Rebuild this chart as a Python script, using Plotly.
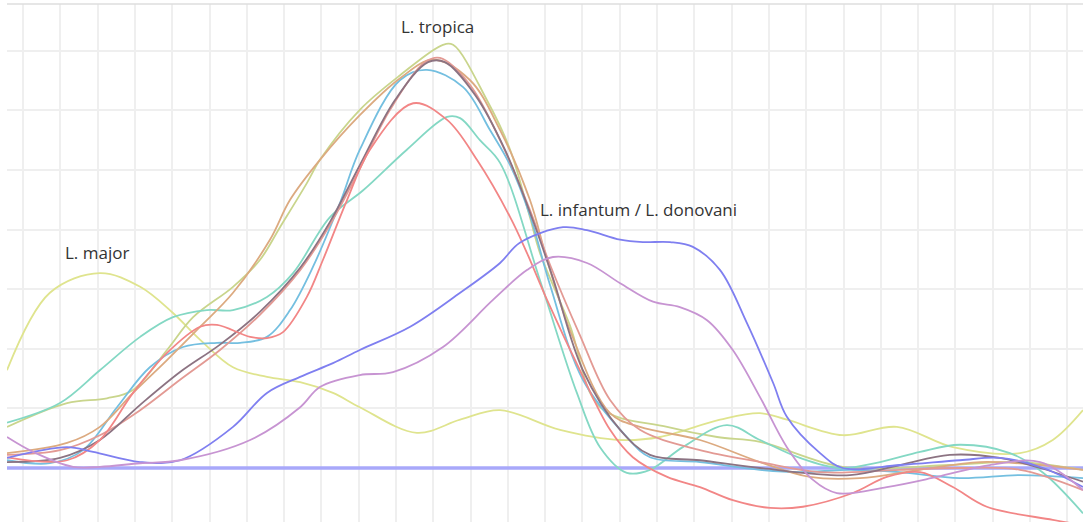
import plotly.graph_objects as go

# ---- data (x in grid columns, y in grid rows) ----
major_x = [-0.43,0.72,2.06,3.14,4.02,4.75,5.63,6.54,7.43,8.31,9.03,10.56,11.72,12.79,14.40,16.01,17.08,18.69,19.76,20.48,21.98,23.43,24.93,26.73,27.61,28.42]
major_y = [1.64,2.94,3.27,3.04,2.60,2.15,1.69,1.53,1.44,1.26,1.02,0.59,0.81,0.97,0.64,0.47,0.52,0.81,0.92,0.81,0.55,0.69,0.35,0.25,0.47,0.97]

olive_x = [-0.43,1.18,2.25,2.95,3.86,4.56,5.63,6.35,6.89,7.61,7.96,9.03,10.11,11.26,11.53,12.44,13.06,13.59,13.86,14.66,15.47,17.27,18.61,19.76,21.98,24.85,26.73,28.42]
olive_y = [0.69,1.09,1.17,1.31,1.98,2.53,3.04,3.49,4.04,4.78,5.17,6.01,6.59,7.10,7.10,6.17,5.34,4.21,3.61,2.40,1.02,0.69,0.52,0.44,0.02,0.05,0.10,-0.03]

aqua_x = [-0.43,0.99,2.06,3.14,4.02,4.93,5.63,6.54,7.24,8.23,9.12,10.29,11.37,11.72,12.25,12.79,13.86,14.85,15.47,16.19,16.81,17.69,18.87,19.76,20.83,21.90,22.98,24.05,25.12,26.46,27.35,28.42]
aqua_y = [0.76,1.09,1.64,2.20,2.53,2.65,2.65,2.87,3.27,4.21,4.66,5.34,5.89,5.87,5.50,5.12,3.15,1.26,0.35,-0.08,-0.03,0.35,0.72,0.47,0.17,0.00,0.10,0.27,0.39,0.25,-0.08,-0.76]

lblue_x = [-0.43,0.72,1.61,2.52,3.40,4.29,5.20,5.82,6.54,7.16,7.77,8.50,9.03,10.11,10.83,11.80,12.52,13.06,13.59,14.13,15.01,16.19,16.81,18.15,19.76,20.83,22.17,23.51,25.12,26.73,28.42]
lblue_y = [0.13,0.08,0.30,1.02,1.69,2.03,2.10,2.10,2.20,2.65,3.37,4.45,5.34,6.51,6.68,6.39,5.67,5.08,4.24,3.07,1.48,0.52,0.18,0.10,-0.03,-0.07,-0.03,-0.07,-0.17,-0.12,-0.17]

salmon_x = [-0.43,1.18,2.06,2.95,3.86,4.75,5.20,6.09,6.54,6.97,7.61,8.04,8.69,9.30,10.46,11.37,12.17,13.06,13.51,14.05,14.93,15.74,16.35,17.27,18.15,19.03,20.03,20.91,22.25,23.16,24.05,24.93,25.84,27.61,28.42]
salmon_y = [0.18,0.13,0.47,1.26,1.93,2.37,2.40,2.20,2.18,2.28,2.87,3.49,4.50,5.34,6.12,5.84,5.17,4.21,3.61,2.82,1.64,0.64,0.18,-0.15,-0.32,-0.54,-0.67,-0.65,-0.42,-0.15,-0.07,-0.32,-0.65,-0.87,-0.96]

tan_x = [-0.43,1.18,2.06,2.95,3.86,4.75,5.63,6.62,7.16,7.96,9.03,10.11,10.99,11.98,12.79,13.59,14.05,14.66,15.74,16.54,18.15,19.76,21.10,22.44,24.05,25.66,27.27,28.42]
tan_y = [0.25,0.42,0.69,1.26,1.81,2.37,2.94,3.83,4.50,5.17,5.92,6.54,6.85,6.51,5.67,4.50,3.49,2.32,0.92,0.69,0.47,0.10,-0.15,-0.17,-0.03,0.10,0.05,-0.03]

rosy_x = [-0.43,0.99,2.06,3.14,4.21,5.28,6.35,7.43,8.23,8.95,9.84,10.78,11.18,11.98,12.79,13.59,14.13,14.93,15.74,16.54,18.15,19.76,21.37,23.51,25.12,26.73,28.42]
rosy_y = [0.22,0.30,0.55,0.97,1.48,1.98,2.57,3.32,4.08,4.92,6.01,6.81,6.88,6.43,5.50,4.33,3.41,2.23,1.14,0.64,0.30,0.10,-0.07,-0.03,0.00,-0.03,-0.37]

dark_x = [-0.43,0.99,2.06,3.14,4.21,5.28,6.35,7.43,8.23,9.03,9.97,10.86,11.31,12.12,12.92,13.65,14.18,15.01,16.01,16.81,18.15,19.76,22.17,23.51,24.85,26.19,27.27,28.42]
dark_y = [0.10,0.17,0.47,1.06,1.61,2.07,2.62,3.36,4.13,5.08,6.17,6.81,6.81,6.26,5.34,4.19,3.24,1.64,0.64,0.22,0.13,0.00,-0.12,0.05,0.22,0.17,0.00,-0.23]

blue_x = [-0.43,1.18,1.88,3.14,4.21,5.63,6.54,7.43,8.31,9.03,10.38,11.72,12.79,13.32,14.48,15.12,16.01,16.62,17.35,17.96,18.69,19.41,20.11,20.48,21.37,21.98,23.51,25.12,26.19,27.35,28.42]
blue_y = [0.17,0.35,0.27,0.10,0.13,0.69,1.26,1.53,1.76,1.98,2.37,2.94,3.44,3.78,4.04,3.99,3.83,3.79,3.79,3.71,3.32,2.43,1.43,0.86,0.25,0.00,0.05,0.13,0.17,0.00,-0.32]

purple_x = [-0.43,0.27,1.34,2.06,3.14,4.21,6.09,7.43,7.96,9.03,9.92,11.26,12.60,13.51,14.21,15.12,16.01,16.89,17.61,18.34,19.03,19.76,20.48,21.18,21.82,23.16,24.50,25.92,27.27,28.42]
purple_y = [0.52,0.27,0.02,0.02,0.08,0.13,0.47,1.02,1.36,1.56,1.61,2.03,2.82,3.32,3.54,3.44,3.10,2.79,2.70,2.48,1.98,1.19,0.35,-0.20,-0.42,-0.32,-0.15,0.05,0.10,-0.37]

base_x = [-0.43, 28.42]
base_y = [0, 0]

labels = ["L. major", "L. tropica", "L. infantum / L. donovani"]
label_x = [1.98, 11.10, 16.49]
label_y = [3.61, 7.40, 4.33]

series = [
    (major_x, major_y, "#dfe48e"),
    (olive_x, olive_y, "#c9d58c"),
    (aqua_x, aqua_y, "#84d8c4"),
    (lblue_x, lblue_y, "#74bfe0"),
    (tan_x, tan_y, "#dcaa80"),
    (rosy_x, rosy_y, "#e39a94"),
    (dark_x, dark_y, "#8c7382"),
    (salmon_x, salmon_y, "#f28686"),
    (blue_x, blue_y, "#7f7ff0"),
    (purple_x, purple_y, "#c794d2"),
]

fig = go.Figure()
fig.add_trace(go.Scatter(x=base_x, y=base_y, mode="lines",
                         line=dict(color="#a8a8fa", width=3.5), hoverinfo="skip"))
for xs, ys, col in series:
    fig.add_trace(go.Scatter(x=xs, y=ys, mode="lines",
                             line=dict(color=col, width=1.8, shape="spline", smoothing=1.0),
                             hoverinfo="skip"))

for t, lx, ly in zip(labels, label_x, label_y):
    fig.add_annotation(x=lx, y=ly, text=t, showarrow=False,
                       font=dict(family="Open Sans", size=17, color="#333333"))

fig.add_shape(type="line", xref="paper", yref="paper", x0=0, x1=1, y0=1, y1=1,
              line=dict(color="#dedede", width=1.5))

fig.update_layout(
    width=1083, height=522,
    margin=dict(l=7, r=0, t=4, b=0),
    paper_bgcolor="white", plot_bgcolor="white",
    showlegend=False,
    xaxis=dict(range=[-0.43, 28.42], tick0=0, dtick=1, showticklabels=False,
               showgrid=True, gridcolor="#efefef", gridwidth=1.5, zeroline=False),
    yaxis=dict(range=[-0.906, 7.785], tick0=0, dtick=1, showticklabels=False,
               showgrid=True, gridcolor="#efefef", gridwidth=1.5, zeroline=False),
)

fig.write_html("out.html", config={"displayModeBar": False},
               post_script="document.body.style.margin='0';document.body.style.overflow='hidden';")
